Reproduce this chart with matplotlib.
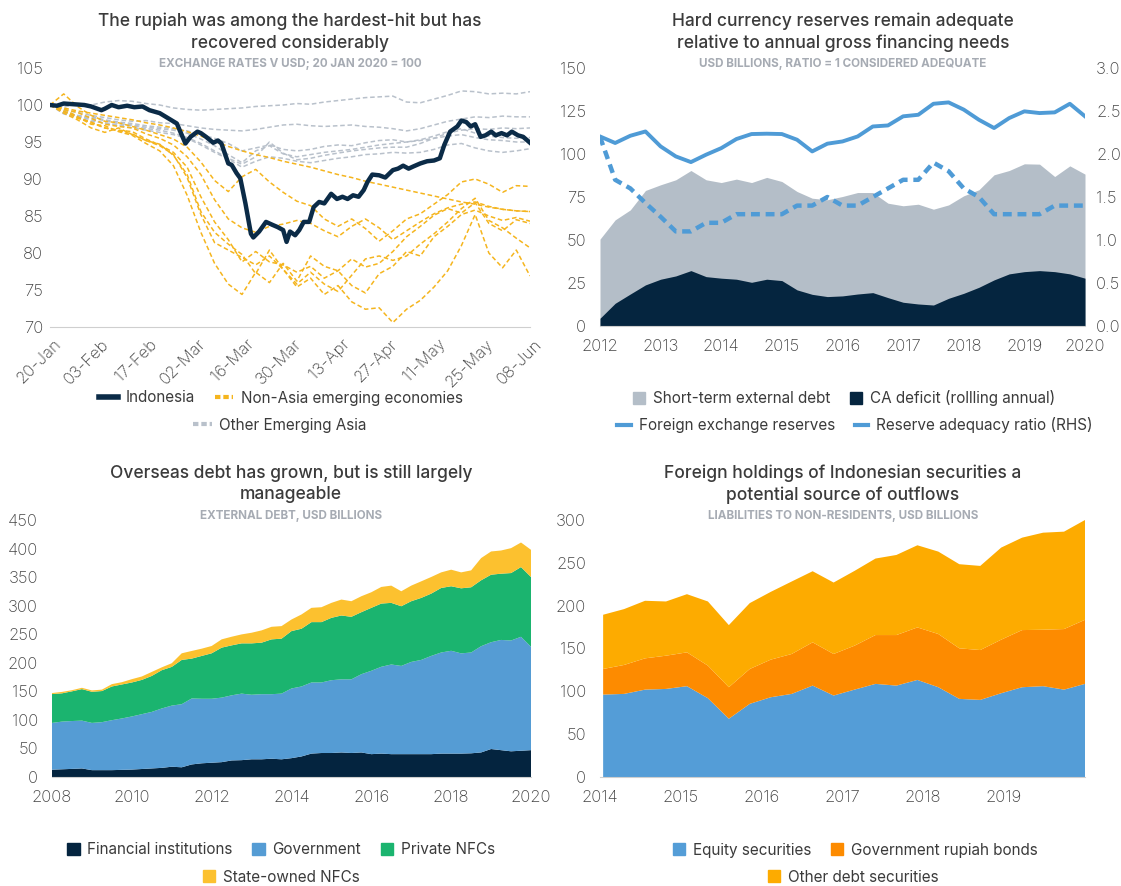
"""Four-panel Indonesia external position chart, redrawn with matplotlib."""

import matplotlib

matplotlib.use("Agg")
import matplotlib.pyplot as plt  # noqa: E402
import numpy as np  # noqa: E402
from matplotlib.lines import Line2D  # noqa: E402
from matplotlib.patches import Patch  # noqa: E402
from matplotlib.transforms import ScaledTranslation  # noqa: E402

W, H = 1121, 886

# ---------------- top-left: exchange rates (days since 20 Jan 2020) ----------------
fx_ticks = [0, 14, 28, 42, 56, 70, 84, 98, 112, 126, 140]
fx_labels = ["20-Jan", "03-Feb", "17-Feb", "02-Mar", "16-Mar", "30-Mar",
             "13-Apr", "27-Apr", "11-May", "25-May", "08-Jun"]

indo_days = [0, 2, 4, 7, 10, 12, 15, 16, 18, 20, 22.5, 24.6, 27, 29, 32, 34.5, 37,
             38, 39.5, 41, 43, 44, 45.5, 47.6, 49, 50, 52, 53, 54.4, 55.5, 57, 58.6,
             59.3, 61, 63, 64.9, 66.4, 68, 69, 70, 71.5, 72.7, 74, 75.6, 76.9, 78.5,
             80, 82, 83.7, 85.3, 86.8, 88.4, 90, 91.5, 92.6, 94, 96, 97.8, 100, 101.5,
             103, 104.6, 106, 108, 110, 112, 113.7, 115, 116.7, 118.8, 120, 121.4,
             122.7, 124, 125.6, 127, 128.7, 130, 131.7, 133.3, 134.7, 136.5, 138, 140]
indonesia = [100, 99.9, 100.2, 100.1, 100, 99.8, 99.3, 99.5, 100, 99.7, 99.9, 99.7,
             99.8, 99.3, 98.9, 98.2, 97.5, 96.4, 94.8, 95.7, 96.4, 96.2, 95.7, 94.9,
             95.2, 94.8, 92.1, 91.9, 90.8, 90.1, 86.7, 82.6, 82.1, 82.9, 84.2, 83.8,
             83.5, 83.1, 81.5, 82.9, 82.4, 83.1, 84.2, 84.2, 86.2, 86.9, 86.7, 88.0,
             87.3, 87.6, 87.3, 87.8, 87.6, 88.5, 89.6, 90.6, 90.5, 90.2, 91.2, 91.4,
             91.8, 91.4, 91.7, 92.1, 92.4, 92.5, 92.8, 94.6, 96.4, 97.1, 97.9, 97.7,
             97.1, 97.4, 95.7, 95.9, 96.4, 95.9, 96.2, 95.9, 96.4, 95.9, 95.7, 94.9]

peer_days = np.arange(0, 141, 4)
non_asia = [
    [100, 99.6, 99.2, 98.9, 98.6, 98.3, 98.0, 97.6, 97.3, 96.9, 96.4, 95.8, 95.1, 94.4,
     93.8, 93.3, 92.9, 92.4, 92.0, 91.6, 91.1, 90.6, 90.2, 89.7, 89.3, 88.9, 88.5, 88.1,
     87.7, 87.3, 86.9, 86.6, 86.2, 85.9, 85.7, 85.6],
    [100, 101.5, 99.8, 98.6, 97.8, 97.6, 97.1, 96.6, 96.0, 95.4, 94.3, 92.3, 89.8, 88.3,
     90.3, 91.3, 89.6, 88.2, 87.0, 86.4, 84.6, 83.6, 84.6, 83.3, 81.6, 83.0, 84.6, 85.3,
     86.6, 87.9, 89.6, 90.0, 89.3, 88.2, 89.1, 89.0],
    [100, 99.4, 99.0, 98.2, 97.4, 97.1, 96.9, 96.1, 95.5, 94.6, 93.0, 90.6, 87.2, 84.6,
     83.4, 82.8, 83.6, 83.9, 84.4, 84.0, 83.0, 82.2, 83.6, 84.6, 83.4, 81.8, 83.0, 84.2,
     85.3, 86.1, 86.6, 86.9, 86.3, 85.9, 85.7, 85.6],
    [100, 99.1, 98.4, 97.6, 96.9, 96.6, 96.4, 95.4, 94.6, 93.6, 91.6, 87.6, 84.2, 81.8,
     78.8, 80.2, 78.8, 78.4, 77.4, 78.2, 76.6, 77.6, 79.2, 78.1, 78.6, 80.2, 82.2, 83.6,
     85.1, 86.0, 85.4, 86.8, 84.0, 83.0, 84.5, 84.0],
    [100, 98.9, 98.0, 96.9, 96.3, 96.9, 96.0, 95.2, 94.7, 93.2, 90.6, 85.6, 82.8, 81.2,
     79.8, 77.2, 80.4, 77.8, 75.8, 77.4, 75.8, 74.8, 77.0, 79.2, 79.6, 79.0, 79.6, 81.2,
     82.6, 84.2, 86.0, 87.4, 84.4, 83.4, 82.0, 80.7],
    [100, 99.2, 98.2, 97.7, 96.9, 96.5, 96.1, 95.2, 94.5, 93.3, 90.2, 85.2, 81.4, 80.4,
     79.4, 78.4, 79.6, 77.8, 75.4, 76.6, 74.4, 75.6, 73.4, 72.4, 72.6, 70.6, 72.4, 73.6,
     75.4, 77.6, 81.0, 85.2, 80.0, 78.0, 80.4, 76.9],
    [100, 99.5, 98.4, 97.4, 97.2, 96.4, 95.9, 94.8, 93.8, 91.8, 87.8, 82.8, 78.6, 75.8,
     74.4, 77.4, 76.0, 78.6, 76.2, 79.6, 78.2, 77.6, 75.6, 74.6, 77.2, 78.2, 80.2, 79.6,
     82.2, 83.6, 85.2, 85.8, 85.0, 84.4, 84.8, 84.3],
]
other_asia = [
    [100, 99.7, 100.2, 100.0, 100.4, 100.6, 100.5, 100.2, 100.0, 99.6, 99.4, 99.3, 99.4,
     99.5, 99.6, 99.8, 99.9, 100.0, 100.2, 100.1, 100.4, 100.6, 100.8, 101.0, 101.1,
     101.2, 100.4, 100.3, 100.8, 101.3, 101.9, 101.8, 101.5, 101.6, 101.5, 101.8],
    [100, 99.3, 99.0, 98.6, 98.3, 98.0, 97.8, 97.9, 97.6, 97.5, 97.2, 96.9, 96.7, 96.6,
     96.5, 96.7, 97.0, 97.3, 97.4, 97.2, 97.1, 97.2, 97.3, 97.1, 97.0, 96.8, 96.5, 96.8,
     97.3, 97.8, 98.1, 98.4, 98.3, 98.5, 98.4, 98.4],
    [100, 99.0, 98.5, 98.2, 97.9, 97.5, 97.3, 97.0, 96.8, 96.6, 96.2, 95.4, 94.5, 93.3,
     92.2, 93.8, 94.5, 93.4, 93.0, 93.3, 93.6, 93.8, 94.0, 94.3, 94.6, 94.8, 95.0, 95.2,
     95.5, 96.2, 96.6, 96.8, 96.7, 96.9, 96.8, 96.9],
    [100, 98.8, 98.3, 97.8, 97.6, 97.3, 97.2, 96.8, 96.6, 96.2, 95.6, 94.8, 93.8, 92.8,
     92.0, 93.0, 95.0, 93.5, 92.6, 92.8, 93.2, 93.5, 93.8, 94.0, 94.2, 94.3, 94.3, 94.8,
     95.5, 95.8, 96.0, 95.6, 95.3, 95.2, 95.0, 95.0],
    [100, 99.2, 98.5, 98.0, 97.5, 97.2, 96.9, 96.6, 96.3, 96.0, 95.5, 94.6, 93.6, 92.7,
     91.6, 92.4, 93.0, 92.8, 92.4, 92.2, 92.5, 92.8, 93.0, 93.3, 93.4, 93.6, 93.5, 93.6,
     94.0, 94.6, 94.8, 94.2, 93.8, 93.6, 93.8, 94.1],
    [100, 99.0, 98.6, 98.4, 98.0, 97.7, 97.5, 97.2, 97.0, 96.8, 96.5, 96.0, 95.5, 94.8,
     93.8, 94.2, 94.6, 94.0, 93.8, 94.0, 94.4, 94.6, 94.5, 94.9, 95.2, 95.3, 95.0, 95.3,
     95.8, 96.4, 96.8, 96.2, 95.8, 95.6, 95.5, 95.6],
]

# ---------------- top-right: reserves, quarterly 2012Q1-2020Q1 ----------------
res_x = 2012 + 0.25 * np.arange(33)
fx_reserves = [110.2, 106.4, 110.6, 113.1, 104.4, 98.6, 95.3, 99.6, 103.4, 108.7, 111.6,
               111.8, 111.6, 108.3, 101.5, 106.0, 107.3, 110.2, 116.0, 116.6, 121.9,
               122.8, 129.2, 130.0, 125.8, 119.9, 115.1, 120.9, 124.8, 123.8, 124.2,
               129.2, 121.9]
adequacy_ratio = [2.2, 1.7, 1.6, 1.43, 1.27, 1.1, 1.1, 1.2, 1.2, 1.3, 1.3, 1.3, 1.3,
                  1.4, 1.4, 1.5, 1.4, 1.4, 1.5, 1.6, 1.7, 1.7, 1.9, 1.8, 1.6, 1.5, 1.3,
                  1.3, 1.3, 1.3, 1.4, 1.4, 1.4]
st_ext_debt = [50.5, 61.7, 67.5, 78.8, 82.1, 85.0, 90.4, 85.0, 83.4, 85.4, 83.4, 86.4,
               84.0, 78.2, 74.3, 73.4, 75.3, 77.6, 77.6, 71.4, 69.9, 70.8, 67.9, 70.4,
               75.7, 79.2, 87.9, 90.4, 94.3, 94.1, 86.9, 93.1, 88.3]
ca_deficit = [4.5, 13.2, 18.6, 23.9, 27.2, 29.1, 32.2, 28.7, 27.8, 27.2, 25.4, 27.2,
              26.4, 21.0, 18.4, 17.1, 17.5, 18.6, 19.4, 16.5, 13.8, 12.8, 12.2, 16.1,
              19.0, 22.5, 26.8, 30.3, 31.6, 32.2, 31.6, 30.3, 27.8]

# ---------------- bottom-left: external debt, quarterly 2008Q1-2020Q1 ----------------
debt_x = 2008 + 0.25 * np.arange(49)
financial_inst = [12.8, 13.5, 14.2, 15.0, 12.0, 12.0, 12.0, 12.5, 13.0, 14.0, 15.0, 16.0,
                  18.0, 17.0, 22.0, 24.0, 25.0, 26.0, 29.0, 29.5, 31.0, 31.0, 32.0, 31.0,
                  33.0, 36.0, 41.0, 42.0, 42.0, 43.0, 42.0, 43.0, 40.0, 41.0, 40.0, 40.0,
                  40.0, 40.0, 40.0, 41.0, 41.0, 41.0, 41.5, 43.0, 49.0, 47.0, 45.0, 46.0,
                  47.0]
government = [81.9, 83.5, 83.8, 83.7, 82.7, 84.0, 87.5, 90.0, 93.0, 96.0, 99.0, 104.0,
              107.0, 110.5, 115.5, 113.0, 112.0, 113.0, 114.0, 116.5, 113.0, 114.0, 113.0,
              115.0, 122.0, 122.5, 124.5, 123.5, 127.5, 128.0, 129.0, 137.0, 146.0, 152.0,
              157.0, 154.5, 161.5, 165.0, 172.0, 177.0, 180.0, 175.5, 176.5, 186.0, 187.0,
              193.0, 194.0, 199.5, 181.0]
private_nfc = [50.5, 49.5, 52.0, 55.2, 54.5, 54.5, 59.0, 59.5, 59.5, 60.0, 63.0, 67.0,
               67.8, 77.5, 69.8, 75.0, 79.6, 87.5, 87.5, 88.0, 90.0, 90.2, 96.0, 96.2,
               100.5, 101.1, 105.7, 105.7, 109.2, 111.8, 109.5, 108.6, 110.2, 110.7, 107.9,
               104.5, 106.3, 108.6, 109.1, 113.0, 113.0, 113.9, 114.2, 115.4, 118.2, 116.0,
               118.1, 122.1, 122.2]
state_nfc = [1.8, 2.5, 2.0, 2.3, 2.4, 2.5, 4.1, 4.0, 5.8, 6.0, 7.0, 5.0, 6.4, 11.6, 13.4,
             12.7, 12.8, 14.5, 15.1, 15.7, 18.6, 21.5, 22.0, 22.0, 20.3, 25.0, 25.0, 26.1,
             26.2, 27.9, 27.3, 27.9, 27.3, 29.1, 30.2, 26.2, 27.3, 29.0, 29.1, 27.3, 29.0,
             27.9, 29.6, 38.9, 40.7, 40.6, 43.6, 43.0, 47.6]

# ---------------- bottom-right: liabilities to non-residents ----------------
sec_x = np.arange(24)
sec_years = ["2014", "2015", "2016", "2017", "2018", "2019"]
equity = [96.2, 97.0, 102.0, 102.8, 106.0, 92.0, 68.0, 85.4, 93.1, 97.0, 106.7, 95.1,
          102.0, 108.7, 106.7, 113.3, 104.8, 91.2, 90.0, 97.8, 104.8, 106.0, 102.0, 108.7]
gov_rupiah_bonds = [29.9, 33.8, 36.5, 38.8, 39.5, 38.0, 36.8, 40.7, 43.9, 46.6, 50.5,
                    48.5, 51.3, 57.0, 59.0, 61.3, 62.1, 59.0, 58.2, 62.5, 66.7, 65.9,
                    70.7, 74.8]
other_debt = [63.3, 65.2, 67.2, 63.3, 67.9, 74.9, 72.5, 76.9, 79.1, 84.6, 83.0, 83.4,
              87.3, 89.3, 93.5, 95.9, 96.2, 98.2, 98.2, 107.5, 107.9, 113.3, 113.7, 116.5]

NAVY = "#0b2b47"
GOLD = "#f5b51e"
GREY = "#b9c1cb"
BLUE = "#4f9bd6"
TXT = "#3b3b3b"
TICK = "#444444"
SUB = "#a6abb3"

plt.rcParams["font.family"] = ["Inter", "DejaVu Sans"]
plt.rcParams["text.color"] = TXT


def px_axes(fig, x0, y0, x1, y1):
    return fig.add_axes([x0 / W, 1 - y1 / H, (x1 - x0) / W, (y1 - y0) / H])


def style(ax, pad_y=7):
    for side in ("top", "right", "left"):
        ax.spines[side].set_visible(False)
    ax.spines["bottom"].set_color("#cfcfcf")
    ax.tick_params(axis="y", length=0, labelsize=12, labelcolor=TICK, pad=pad_y)
    ax.tick_params(axis="x", length=0, labelsize=12, labelcolor=TICK, pad=9)
    for lbl in ax.get_xticklabels() + ax.get_yticklabels():
        lbl.set_fontweight("light")


def titles(fig, xc, y, lines, sub):
    fig.text(xc / W, 1 - y / H, lines, ha="center", va="center", fontsize=12.5,
             fontweight="medium", color=TXT, linespacing=1.3)
    fig.text(xc / W, 1 - (y + 32) / H, sub, ha="center", va="center", fontsize=8.4,
             fontweight="bold", color=SUB)


def legend(fig, handles, labels, xc, y, ncol, **kw):
    opts = dict(loc="center", bbox_to_anchor=(xc / W, 1 - y / H), ncol=ncol,
                frameon=False, fontsize=11, handletextpad=0.5, columnspacing=1.3,
                borderaxespad=0, labelcolor=TXT)
    opts.update(kw)
    fig.legend(handles, labels, **opts)


fig = plt.figure(figsize=(W / 100, H / 100), dpi=100)

# top-left
ax = px_axes(fig, 50, 68, 530, 327)
for series in other_asia:
    ax.plot(peer_days, series, color=GREY, lw=1.1, ls=(0, (3, 1.8)), zorder=2)
for series in non_asia:
    ax.plot(peer_days, series, color=GOLD, lw=1.1, ls=(0, (3, 1.8)), zorder=3)
ax.plot(indo_days, indonesia, color=NAVY, lw=3.2, zorder=5, solid_joinstyle="round")
ax.set_xlim(0, 140)
ax.set_ylim(70, 105)
ax.set_yticks(range(70, 106, 5))
ax.set_xticks(fx_ticks)
ax.set_xticklabels(fx_labels, rotation=45, ha="right", va="center",
                   rotation_mode="anchor")
style(ax, pad_y=5)
ax.tick_params(axis="x", length=0, pad=4)
shift = ScaledTranslation(0.09, -0.09, fig.dpi_scale_trans)
for lbl in ax.get_xticklabels():
    lbl.set_transform(lbl.get_transform() + shift)
titles(fig, 290, 32, "The rupiah was among the hardest-hit but has\nrecovered considerably",
       "EXCHANGE RATES V USD; 20 JAN 2020 = 100")
legend(fig, [Line2D([], [], color=NAVY, lw=4),
             Line2D([], [], color=GOLD, lw=3, ls=(0, (1.3, 0.7)))],
       ["Indonesia", "Non-Asia emerging economies"], 281, 398, 2, handlelength=1.2)
legend(fig, [Line2D([], [], color=GREY, lw=3, ls=(0, (1.3, 0.7)))],
       ["Other Emerging Asia"], 280, 425, 1, handlelength=1.2)

# top-right
ax = px_axes(fig, 600, 68, 1085, 326)
ax.fill_between(res_x, 0, st_ext_debt, color="#b4bec8", lw=0, zorder=1)
ax.fill_between(res_x, 0, ca_deficit, color="#05253f", lw=0, zorder=2)
ax.plot(res_x, fx_reserves, color=BLUE, lw=2.8, zorder=4)
ax.set_xlim(2012, 2020)
ax.set_ylim(0, 150)
ax.set_yticks(range(0, 151, 25))
ax.set_xticks(range(2012, 2021))
style(ax, pad_y=10)
ax2 = ax.twinx()
ax2.plot(res_x, adequacy_ratio, color=BLUE, lw=3.2, ls=(0, (2.0, 1.3)), zorder=4)
ax2.set_ylim(0, 3)
ax2.set_yticks(np.arange(0, 3.01, 0.5))
ax2.set_yticklabels([f"{v:.1f}" for v in np.arange(0, 3.01, 0.5)])
for side in ("top", "right", "left", "bottom"):
    ax2.spines[side].set_visible(False)
ax2.tick_params(axis="y", length=0, labelsize=12, labelcolor=TICK, pad=8)
for lbl in ax2.get_yticklabels():
    lbl.set_fontweight("light")
titles(fig, 843, 32, "Hard currency reserves remain adequate\nrelative to annual gross financing needs",
       "USD BILLIONS, RATIO = 1 CONSIDERED ADEQUATE")
legend(fig, [Patch(color="#b4bec8"), Patch(color="#05253f")],
       ["Short-term external debt", "CA deficit (rollling annual)"], 844, 398, 2,
       handlelength=0.8, handleheight=0.8)
legend(fig, [Line2D([], [], color=BLUE, lw=3), Line2D([], [], color=BLUE, lw=3)],
       ["Foreign exchange reserves", "Reserve adequacy ratio (RHS)"], 855, 425, 2,
       handlelength=0.9)

# bottom-left
ax = px_axes(fig, 52, 520, 531, 777)
bl_colors = ["#04243f", "#559cd4", "#1bb46f", "#fcc12f"]
ax.stackplot(debt_x, financial_inst, government, private_nfc, state_nfc,
             colors=bl_colors, lw=0)
ax.set_xlim(2008, 2020)
ax.set_ylim(0, 450)
ax.set_yticks(range(0, 451, 50))
ax.set_xticks(range(2008, 2021, 2))
style(ax, pad_y=10)
titles(fig, 291, 484, "Overseas debt has grown, but is still largely\nmanageable",
       "EXTERNAL DEBT, USD BILLIONS")
legend(fig, [Patch(color=c) for c in bl_colors[:3]],
       ["Financial institutions", "Government", "Private NFCs"], 281, 850, 3,
       handlelength=0.8, handleheight=0.8)
legend(fig, [Patch(color=bl_colors[3])], ["State-owned NFCs"], 281, 877, 1,
       handlelength=0.8, handleheight=0.8)

# bottom-right
ax = px_axes(fig, 600, 520, 1085, 777)
br_colors = ["#549dd7", "#fd8b00", "#fdab00"]
ax.stackplot(sec_x, equity, gov_rupiah_bonds, other_debt, colors=br_colors, lw=0)
ax.set_xlim(0, 23)
ax.set_ylim(0, 300)
ax.set_yticks(range(0, 301, 50))
ax.set_xticks([-0.15 + 3.85 * k for k in range(len(sec_years))])
ax.set_xticklabels(sec_years)
style(ax, pad_y=10)
titles(fig, 843, 484, "Foreign holdings of Indonesian securities a\npotential source of outflows",
       "LIABILITIES TO NON-RESIDENTS, USD BILLIONS")
legend(fig, [Patch(color=c) for c in br_colors[:2]],
       ["Equity securities", "Government rupiah bonds"], 855, 850, 2,
       handlelength=0.8, handleheight=0.8)
legend(fig, [Patch(color=br_colors[2])], ["Other debt securities"], 853, 877, 1,
       handlelength=0.8, handleheight=0.8)

fig.savefig("out.png", dpi=100)
